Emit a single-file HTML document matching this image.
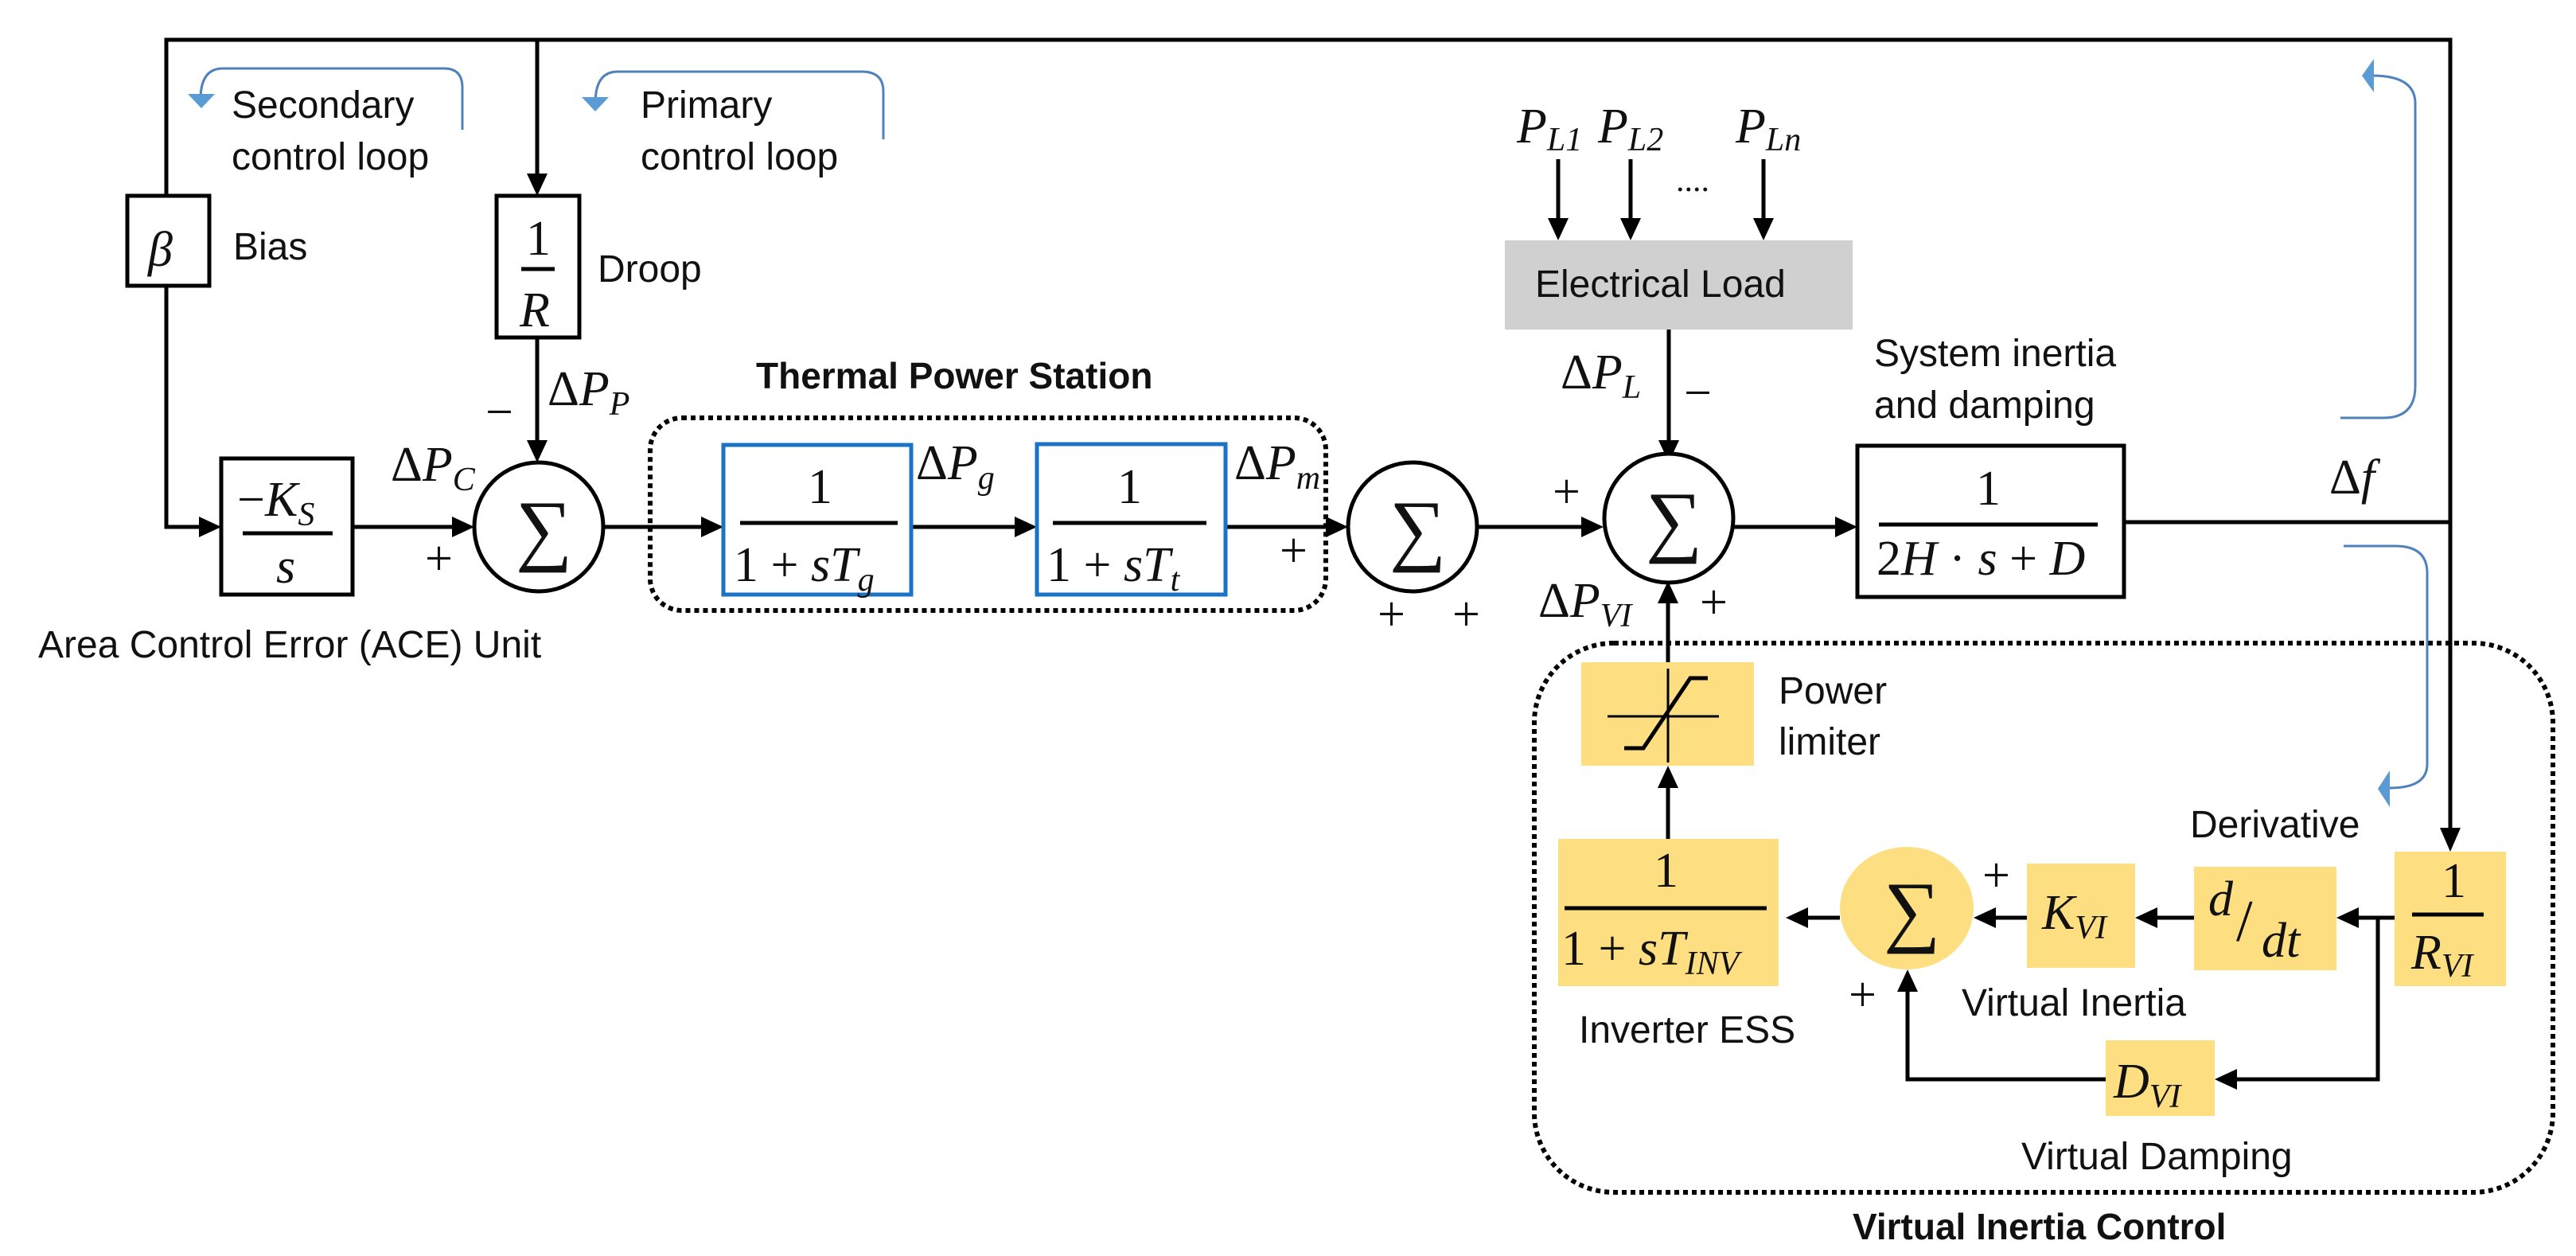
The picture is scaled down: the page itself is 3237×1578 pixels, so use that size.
<!DOCTYPE html>
<html><head><meta charset="utf-8"><style>
html,body{margin:0;padding:0;background:#fff}
svg{display:block}
.t{font-family:"Liberation Sans",sans-serif;font-size:48px;fill:#111}
.b{font-family:"Liberation Sans",sans-serif;font-size:46px;font-weight:bold;fill:#111}
.m{font-family:"Liberation Serif",serif;font-size:62px;fill:#111}
.i{font-style:italic}
.s{font-size:42px;font-style:italic}
</style></head><body>
<svg width="3237" height="1578" viewBox="0 0 3237 1578" xmlns="http://www.w3.org/2000/svg">
<g stroke="#000" stroke-width="5" fill="none">
<polyline points="209,246 209,50 3079,50 3079,1040"/>
<line x1="675" y1="50" x2="675" y2="218"/>
<polyline points="209,359 209,662 250,662"/>
<line x1="675" y1="424" x2="675" y2="553"/>
<line x1="443" y1="662" x2="568" y2="662"/>
<line x1="758" y1="662" x2="881" y2="662"/>
<line x1="1145" y1="662" x2="1275" y2="662"/>
<line x1="1540" y1="662" x2="1666" y2="662"/>
<line x1="1857" y1="662" x2="1987" y2="662"/>
<line x1="2178" y1="662" x2="2306" y2="662"/>
<line x1="2669" y1="656" x2="3079" y2="656"/>
<line x1="2097" y1="414" x2="2097" y2="553"/>
<line x1="1958" y1="200" x2="1958" y2="274"/>
<line x1="2049" y1="200" x2="2049" y2="274"/>
<line x1="2216" y1="200" x2="2216" y2="274"/>
<line x1="2096" y1="833" x2="2096" y2="758"/>
<line x1="2096" y1="1054" x2="2096" y2="990"/>
<line x1="2312" y1="1153" x2="2272" y2="1153"/>
<line x1="2547" y1="1153" x2="2508" y2="1153"/>
<line x1="2757" y1="1153" x2="2711" y2="1153"/>
<line x1="3009" y1="1153" x2="2964" y2="1153"/>
<polyline points="2988,1153 2988,1356 2811,1356"/>
<polyline points="2646,1356 2397,1356 2397,1246"/>
</g>
<g fill="#000">
<polygon points="3066,1040 3092,1040 3079,1070"/>
<polygon points="662,218 688,218 675,246"/>
<polygon points="250,649 250,675 278,662"/>
<polygon points="662,553 688,553 675,581"/>
<polygon points="568,649 568,675 596,662"/>
<polygon points="881,649 881,675 909,662"/>
<polygon points="1275,649 1275,675 1303,662"/>
<polygon points="1666,649 1666,675 1694,662"/>
<polygon points="1987,649 1987,675 2015,662"/>
<polygon points="2306,649 2306,675 2334,662"/>
<polygon points="2084,553 2110,553 2097,581"/>
<polygon points="1945,274 1971,274 1958,302"/>
<polygon points="2036,274 2062,274 2049,302"/>
<polygon points="2203,274 2229,274 2216,302"/>
<polygon points="2083,758 2109,758 2096,730"/>
<polygon points="2083,990 2109,990 2096,962"/>
<polygon points="2272,1140 2272,1166 2244,1153"/>
<polygon points="2508,1140 2508,1166 2480,1153"/>
<polygon points="2711,1140 2711,1166 2683,1153"/>
<polygon points="2964,1140 2964,1166 2936,1153"/>
<polygon points="2811,1343 2811,1369 2783,1356"/>
<polygon points="2384,1246 2410,1246 2397,1218"/>
</g>
<rect x="817" y="525" width="849" height="242" rx="40" fill="none" stroke="#000" stroke-width="6" stroke-dasharray="6 5"/>
<rect x="1928" y="808" width="1280" height="690" rx="100" fill="none" stroke="#000" stroke-width="6" stroke-dasharray="6 5"/>
<g stroke="#000" stroke-width="5" fill="#fff">
<rect x="160" y="246" width="103" height="113"/>
<rect x="624" y="246" width="104" height="178"/>
<rect x="278" y="576" width="165" height="171"/>
<circle cx="677" cy="662" r="81"/>
<circle cx="1775" cy="662" r="81"/>
<circle cx="2097" cy="651" r="81"/>
<rect x="2334" y="560" width="335" height="190"/>
</g>
<g stroke="#1a73c4" stroke-width="5" fill="#fff">
<rect x="909" y="559" width="236" height="188"/>
<rect x="1303" y="558" width="237" height="189"/>
</g>
<rect x="1891" y="302" width="437" height="112" fill="#d0d0d0"/>
<g fill="#fddf82">
<rect x="1987" y="832" width="217" height="130"/>
<rect x="1958" y="1054" width="277" height="185"/>
<ellipse cx="2396" cy="1141" rx="84" ry="77"/>
<rect x="2547" y="1085" width="136" height="131"/>
<rect x="2757" y="1089" width="179" height="130"/>
<rect x="3009" y="1070" width="140" height="169"/>
<rect x="2646" y="1307" width="137" height="95"/>
</g>
<g stroke="#000" fill="none">
<line x1="2096" y1="840" x2="2096" y2="958" stroke-width="3"/>
<line x1="2020" y1="900" x2="2160" y2="900" stroke-width="3"/>
<polyline points="2041,940 2065,940 2124,852 2146,852" stroke-width="5"/>
</g>
<g stroke="#000" stroke-width="5">
<line x1="655" y1="338" x2="697" y2="338"/>
<line x1="305" y1="670" x2="418" y2="670"/>
<line x1="930" y1="657" x2="1128" y2="657"/>
<line x1="1323" y1="657" x2="1516" y2="657"/>
<line x1="2361" y1="659" x2="2636" y2="659"/>
<line x1="1966" y1="1141" x2="2220" y2="1141"/>
<line x1="3031" y1="1149" x2="3121" y2="1149"/>
</g>
<g stroke="#4f81bd" stroke-width="3" fill="none">
<path d="M252,125 Q252,86 280,86 L558,86 Q581,86 581,110 L581,163"/>
<path d="M748,130 Q748,90 776,90 L1083,90 Q1110,90 1110,115 L1110,175"/>
<path d="M2981,95 Q3035,95 3035,130 L3035,485 Q3035,525 2995,525 L2941,525"/>
<path d="M2945,686 L3010,686 Q3050,686 3050,720 L3050,960 Q3050,990 3003,990"/>
</g>
<g fill="#5b9bd5">
<polygon points="236,118 270,118 253,136"/>
<polygon points="731,122 765,122 748,140"/>
<polygon points="2983,74 2983,116 2968,95"/>
<polygon points="3003,968 3003,1014 2988,991"/>
</g>
<text class="t" x="291" y="148">Secondary</text>
<text class="t" x="291" y="213">control loop</text>
<text class="t" x="805" y="148">Primary</text>
<text class="t" x="805" y="213">control loop</text>
<text class="t" x="293" y="326">Bias</text>
<text class="t" x="751" y="354">Droop</text>
<text class="t" x="48" y="826">Area Control Error (ACE) Unit</text>
<text class="b" x="950" y="488">Thermal Power Station</text>
<text class="t" x="1929" y="373" font-size="52">Electrical Load</text>
<text class="t" x="2355" y="460">System inertia</text>
<text class="t" x="2355" y="525">and damping</text>
<text class="t" x="2235" y="884">Power</text>
<text class="t" x="2235" y="948">limiter</text>
<text class="t" x="2752" y="1052">Derivative</text>
<text class="t" x="2465" y="1276">Virtual Inertia</text>
<text class="t" x="1984" y="1310">Inverter ESS</text>
<text class="t" x="2540" y="1469">Virtual Damping</text>
<text class="b" x="2328" y="1557">Virtual Inertia Control</text>
<g class="m">
<text x="186" y="334" class="i">β</text>
<text x="661" y="320">1</text>
<text x="653" y="410" class="i">R</text>
<text x="298" y="648">−<tspan class="i">K</tspan><tspan class="s" dy="12">S</tspan></text>
<text x="347" y="732" class="i">s</text>
<text x="1015" y="632">1</text>
<text x="922" y="730">1 + <tspan class="i">sT</tspan><tspan class="s" dy="12">g</tspan></text>
<text x="1404" y="632">1</text>
<text x="1315" y="730">1 + <tspan class="i">sT</tspan><tspan class="s" dy="12">t</tspan></text>
<text x="2483" y="634">1</text>
<text x="2358" y="722">2<tspan class="i">H</tspan> · <tspan class="i">s</tspan> + <tspan class="i">D</tspan></text>
<text x="2078" y="1114">1</text>
<text x="1962" y="1212">1 + <tspan class="i">sT</tspan><tspan class="s" dy="12">INV</tspan></text>
<text x="3068" y="1127">1</text>
<text x="3030" y="1217" class="i">R<tspan class="s" dy="10">VI</tspan></text>
<text x="2566" y="1167" class="i">K<tspan class="s" dy="12">VI</tspan></text>
<text x="2656" y="1379" class="i">D<tspan class="s" dy="12">VI</tspan></text>
<text x="2775" y="1150" class="i">d</text>
<text x="2810" y="1182" font-size="74">/</text>
<text x="2842" y="1202" class="i">dt</text>
<text x="648" y="698" font-size="100">∑</text>
<text x="1746" y="698" font-size="100">∑</text>
<text x="2068" y="687" font-size="100">∑</text>
<text x="2367" y="1177" font-size="100">∑</text>
<text x="688" y="509">Δ<tspan class="i">P</tspan><tspan class="s" dy="12">P</tspan></text>
<text x="491" y="604">Δ<tspan class="i">P</tspan><tspan class="s" dy="12">C</tspan></text>
<text x="1151" y="602">Δ<tspan class="i">P</tspan><tspan class="s" dy="12">g</tspan></text>
<text x="1551" y="602">Δ<tspan class="i">P</tspan><tspan class="s" dy="12">m</tspan></text>
<text x="1961" y="488">Δ<tspan class="i">P</tspan><tspan class="s" dy="12">L</tspan></text>
<text x="1933" y="775">Δ<tspan class="i">P</tspan><tspan class="s" dy="12">VI</tspan></text>
<text x="2927" y="620">Δ<tspan class="i">f</tspan></text>
<text x="1906" y="179" class="i">P<tspan class="s" dy="10">L1</tspan></text>
<text x="2008" y="179" class="i">P<tspan class="s" dy="10">L2</tspan></text>
<text x="2181" y="179" class="i">P<tspan class="s" dy="10">Ln</tspan></text>
<text x="2106" y="240" font-size="42">....</text>
<text x="534" y="722">+</text>
<text x="610" y="538">−</text>
<text x="1608" y="712">+</text>
<text x="1731" y="792">+</text>
<text x="1825" y="792">+</text>
<text x="1951" y="638">+</text>
<text x="2116" y="514">−</text>
<text x="2136" y="777">+</text>
<text x="2491" y="1120">+</text>
<text x="2323" y="1270">+</text>
</g>
</svg>
</body></html>
